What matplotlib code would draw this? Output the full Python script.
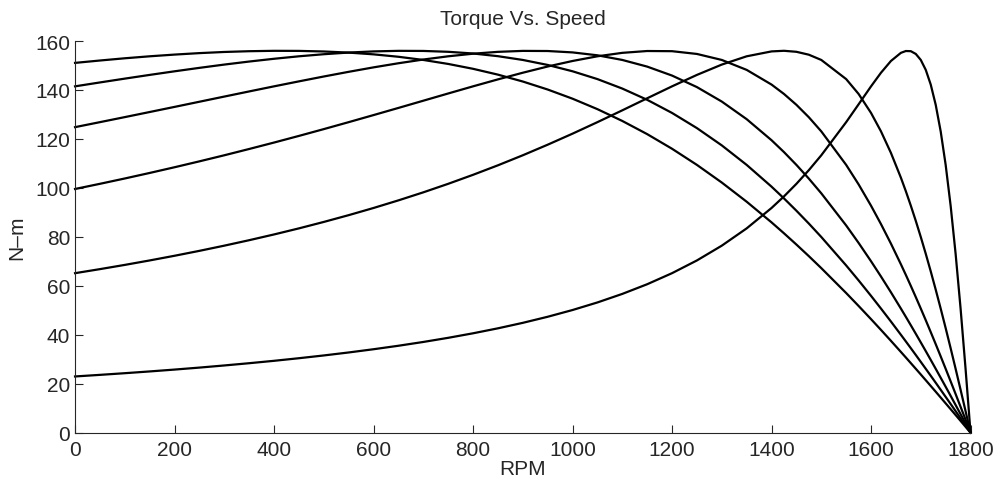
import matplotlib
matplotlib.use("Agg")
import matplotlib.pyplot as plt

plt.rcParams['font.family'] = ['Liberation Sans', 'DejaVu Sans']

# Speed grid (RPM)
rpm = [0, 50, 100, 150, 200, 250, 300, 350, 400, 450, 500, 550, 600, 650, 700, 750,
       800, 850, 900, 950, 1000, 1050, 1100, 1150, 1200, 1250, 1300, 1350, 1400,
       1425, 1450, 1475, 1500, 1550, 1575, 1600, 1620, 1640, 1660, 1670, 1680, 1690,
       1700, 1710, 1720, 1730, 1740, 1750, 1760, 1770, 1780, 1790, 1800]

# Torque (N-m) for each curve
torque_1 = [22.97, 23.62, 24.30, 25.02, 25.78, 26.59, 27.46, 28.38, 29.36, 30.42, 31.55,
            32.77, 34.09, 35.51, 37.06, 38.75, 40.60, 42.63, 44.87, 47.35, 50.11, 53.20,
            56.69, 60.64, 65.16, 70.36, 76.40, 83.46, 91.79,
            96.52, 101.66, 107.25, 113.32, 126.85, 134.14, 141.48, 147.04, 151.84, 155.16,
            155.91, 155.84, 154.71, 152.26, 148.20, 142.20, 133.93, 123.08, 109.39, 92.71,
            73.07, 50.70, 26.10, 0.0]
torque_2 = [65.16, 66.81, 68.54, 70.36, 72.27, 74.28, 76.40, 78.63, 80.98, 83.46, 86.09,
            88.86, 91.79, 94.90, 98.18, 101.66, 105.34, 109.22, 113.32, 117.64, 122.15,
            126.85, 131.68, 136.60, 141.48, 146.15, 150.37, 153.75, 155.75,
            156.00, 155.59, 154.40, 152.26, 144.44, 138.37, 130.61, 123.08, 114.28, 104.17,
            98.61, 92.71, 86.49, 79.94, 73.07, 65.90, 58.43, 50.70, 42.72, 34.51,
            26.10, 17.52, 8.81, 0.0]
torque_3 = [99.55, 101.66, 103.84, 106.10, 108.43, 110.84, 113.32, 115.89, 118.52, 121.23,
            124.01, 126.85, 129.74, 132.66, 135.61, 138.56, 141.48, 144.32, 147.04, 149.58,
            151.84, 153.75, 155.16, 155.91, 155.84, 154.71, 152.26, 148.20, 142.20,
            138.37, 133.93, 128.85, 123.08, 109.39, 101.43, 92.71, 85.20, 77.23, 68.80,
            64.43, 59.95, 55.37, 50.70, 45.94, 41.09, 36.17, 31.17, 26.10, 20.97,
            15.79, 10.56, 5.30, 0.0]
torque_4 = [124.81, 126.85, 128.91, 130.99, 133.08, 135.19, 137.30, 139.40, 141.48, 143.51,
            145.50, 147.41, 149.23, 150.91, 152.43, 153.75, 154.81, 155.57, 155.96, 155.91,
            155.34, 154.16, 152.26, 149.54, 145.88, 141.17, 135.26, 128.07, 119.47,
            114.62, 109.39, 103.78, 97.78, 84.65, 77.52, 70.03, 63.79, 57.35, 50.70,
            47.31, 43.87, 40.39, 36.87, 33.32, 29.73, 26.10, 22.44, 18.76, 15.05,
            11.31, 7.56, 3.79, 0.0]
torque_5 = [141.48, 143.07, 144.63, 146.15, 147.62, 149.03, 150.37, 151.61, 152.74, 153.75,
            154.60, 155.28, 155.75, 155.98, 155.94, 155.59, 154.90, 153.80, 152.26, 150.22,
            147.63, 144.44, 140.57, 135.98, 130.61, 124.42, 117.36, 109.39, 100.50,
            95.70, 90.67, 85.42, 79.94, 68.32, 62.20, 55.89, 50.70, 45.41, 40.00,
            37.27, 34.51, 31.73, 28.92, 26.10, 23.26, 20.40, 17.52, 14.63, 11.73,
            8.81, 5.88, 2.95, 0.0]
torque_6 = [151.06, 152.03, 152.94, 153.75, 154.45, 155.05, 155.52, 155.83, 155.99, 155.96,
            155.72, 155.26, 154.55, 153.56, 152.26, 150.63, 148.64, 146.26, 143.45, 140.18,
            136.43, 132.16, 127.34, 121.96, 115.98, 109.39, 102.18, 94.35, 85.91,
            81.45, 76.85, 72.11, 67.22, 57.05, 51.77, 46.38, 41.98, 37.52, 32.99,
            30.71, 28.41, 26.10, 23.78, 21.44, 19.09, 16.74, 14.37, 11.99, 9.61,
            7.22, 4.82, 2.41, 0.0]

curves = [torque_1, torque_2, torque_3, torque_4, torque_5, torque_6]

x_ticks = [0, 200, 400, 600, 800, 1000, 1200, 1400, 1600, 1800]
y_ticks = [0, 20, 40, 60, 80, 100, 120, 140, 160]

txt = '#262626'
fig = plt.figure(figsize=(10.02, 4.85), dpi=100)
ax = fig.add_axes([0.0749, 0.1058, 0.8937, 0.8076])

for t in curves:
    ax.plot(rpm, t, color='black', lw=1.6, solid_joinstyle='round', clip_on=False)

ax.set_xlim(0, 1800)
ax.set_ylim(0, 160)
ax.set_xticks(x_ticks)
ax.set_yticks(y_ticks)
ax.spines['top'].set_visible(False)
ax.spines['right'].set_visible(False)
for s in ('left', 'bottom'):
    ax.spines[s].set_color(txt)
    ax.spines[s].set_linewidth(0.8)
ax.tick_params(axis='both', direction='in', length=6, width=0.8, color=txt,
               labelcolor=txt, labelsize=15)
ax.tick_params(axis='x', pad=5)
ax.tick_params(axis='y', pad=3.5)

ax.set_title('Torque Vs. Speed', fontsize=15, color=txt, pad=12)
ax.set_xlabel('RPM', fontsize=15, color=txt, labelpad=0)
ax.set_ylabel('N–m', fontsize=15, color=txt, labelpad=6)

fig.savefig('out.png', dpi=100, facecolor='white')
